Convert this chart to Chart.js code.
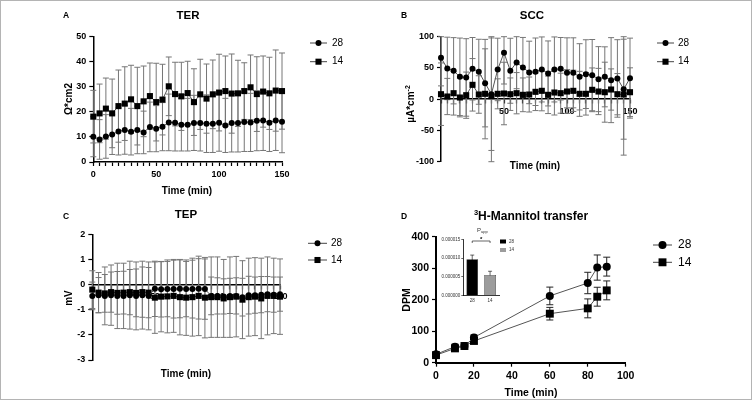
<!DOCTYPE html>
<html>
<head>
<meta charset="utf-8">
<script src="https://cdn.jsdelivr.net/npm/chart.js@4"></script>
<style>
  body { margin: 0; background: #fff; }
  #fig { position: relative; width: 752px; height: 400px; overflow: hidden; }
  #frame { position: absolute; left: 0; top: 0; width: 752px; height: 400px; box-sizing: border-box; border: 1px solid #b4b4b4; pointer-events: none; }
  canvas { position: absolute; }
  .t { position: absolute; transform: translate(-50%, -50%); white-space: nowrap; line-height: 1;
       font-family: "Liberation Sans", Arial, sans-serif; font-weight: bold; color: #000; }
  .r { transform: translate(-50%, -50%) rotate(-90deg); }
  .big { font-size: 11.5px; }
  .let { font-size: 8.5px; }
  .ax { font-size: 10px; }
  sup { font-size: 7px; }
</style>
</head>
<body>
<div id="fig">
  <canvas id="cA" width="376" height="200" style="left:0;top:0"></canvas>
  <canvas id="cB" width="376" height="200" style="left:376px;top:0"></canvas>
  <canvas id="cC" width="376" height="200" style="left:0;top:200px"></canvas>
  <canvas id="cD" width="376" height="200" style="left:376px;top:200px"></canvas>
  <canvas id="cIn" width="95" height="85" style="left:430px;top:225px"></canvas>

  <div class="t let" style="left:66px;top:14.5px">A</div>
  <div class="t big" style="left:188px;top:16px">TER</div>
  <div class="t let" style="left:404px;top:14.5px">B</div>
  <div class="t big" style="left:532px;top:15.5px">SCC</div>
  <div class="t let" style="left:66px;top:215.5px">C</div>
  <div class="t big" style="left:186px;top:214.5px">TEP</div>
  <div class="t let" style="left:404px;top:215.5px">D</div>
  <div class="t big" style="left:531px;top:215px;font-size:12px"><sup style="font-size:7.5px">3</sup>H-Mannitol transfer</div>

  <div class="t ax" style="left:187px;top:191px">Time (min)</div>
  <div class="t ax" style="left:535px;top:165.5px">Time (min)</div>
  <div class="t ax" style="left:186px;top:374px">Time (min)</div>
  <div class="t ax" style="left:531px;top:391.5px;font-size:10.5px">Time (min)</div>

  <div class="t ax r" style="left:69px;top:98.5px">Ω*cm2</div>
  <div class="t ax r" style="left:410px;top:104px">µA*cm<sup>-2</sup></div>
  <div class="t ax r" style="left:69px;top:297.5px">mV</div>
  <div class="t ax r" style="left:406px;top:299.5px;font-size:10.5px">DPM</div>
  <div id="frame"></div>
</div>

<script>
// time points (min) for TER, SCC, TEP
const times = [0, 5, 10, 15, 20, 25, 30, 35, 40, 45, 50, 55, 60, 65, 70, 75, 80, 85, 90, 95, 100, 105, 110, 115, 120, 125, 130, 135, 140, 145, 150];

// A: TER
const ter28   = [10.1, 9.0, 10.2, 11.0, 12.2, 12.8, 12.1, 12.8, 11.8, 14.0, 13.3, 14.1, 15.8, 15.7, 14.9, 14.9, 15.6, 15.6, 15.3, 15.3, 15.7, 14.6, 15.6, 15.6, 16.0, 15.8, 16.5, 16.6, 15.7, 16.6, 16.1];
const ter28Sd = [8.0, 7.9, 8.7, 8.0, 9.4, 9.7, 9.3, 9.5, 8.5, 9.9, 9.2, 9.6, 11.3, 11.3, 10.5, 10.5, 11.0, 11.2, 11.5, 11.5, 11.4, 10.8, 11.6, 11.6, 11.8, 11.6, 12.0, 12.0, 11.5, 12.0, 12.4];
const ter14   = [18.1, 19.4, 21.3, 19.4, 22.3, 23.3, 25.0, 22.3, 24.2, 26.3, 23.9, 24.9, 30.2, 27.1, 26.2, 27.5, 23.9, 27.0, 25.3, 27.0, 27.7, 28.3, 27.3, 27.4, 28.3, 29.8, 27.1, 28.1, 27.4, 28.5, 28.3];
const ter14Sd = [10.5, 11.7, 12.2, 13.7, 14.4, 14.7, 13.6, 15.5, 14.1, 13.2, 15.5, 14.1, 11.7, 12.7, 13.6, 12.7, 13.3, 14.0, 13.8, 13.7, 15.3, 14.0, 15.8, 13.2, 11.3, 12.9, 14.9, 14.2, 14.4, 16.2, 15.2];

// B: SCC
const scc28   = [66.3, 49.2, 45.5, 35.8, 34.8, 48.7, 43.9, 25.7, 8, 47.6, 74.3, 45.5, 58.8, 50.8, 42.8, 43.9, 47.6, 41.2, 47.6, 48.7, 42.2, 42.2, 35.8, 40.1, 38.5, 32.1, 35.8, 30.5, 33.2, 16, 33.7];
const scc28Sd = [45, 50, 53, 62, 62, 50, 52, 70, 90, 50, 50, 52, 42, 48, 50, 54, 52, 52, 52, 50, 56, 56, 53, 55, 57, 52, 48, 68, 62, 80, 64];
const scc14   = [8, 4.3, 9.6, 2.7, 6.4, 23, 7.5, 8.6, 5, 8.6, 9.1, 8, 9.6, 7, 7.5, 11.8, 13.4, 7, 10.7, 9.6, 12.3, 13.4, 8.6, 8.6, 15, 12.3, 11.2, 15.5, 8, 7.5, 11.2];
const scc14Sd = [50, 29, 35, 31, 37, 42, 30, 72, 110, 24, 50, 26, 33, 27, 28, 30, 32, 30, 36, 32, 35, 33, 36, 34, 35, 37, 48, 33, 33, 97, 39];

// C: TEP
const tep28   = [-0.45, -0.42, -0.45, -0.42, -0.45, -0.45, -0.42, -0.45, -0.42, -0.45, -0.17, -0.19, -0.18, -0.18, -0.17, -0.18, -0.18, -0.17, -0.18, -0.45, -0.45, -0.47, -0.45, -0.45, -0.5, -0.42, -0.42, -0.4, -0.38, -0.4, -0.38];
const tep28Sd = [0.55, 0.7, 1.15, 1.2, 1.3, 1.3, 1.35, 1.35, 1.35, 1.35, 1.1, 1.1, 1.1, 1.15, 1.15, 1.1, 1.15, 1.2, 1.2, 0.75, 0.72, 0.7, 0.7, 0.72, 0.75, 0.75, 0.72, 0.72, 0.7, 0.7, 0.68];
const tep14   = [-0.2, -0.32, -0.35, -0.3, -0.33, -0.32, -0.3, -0.33, -0.3, -0.32, -0.52, -0.48, -0.47, -0.45, -0.5, -0.52, -0.5, -0.45, -0.52, -0.5, -0.5, -0.55, -0.5, -0.48, -0.6, -0.5, -0.48, -0.55, -0.45, -0.45, -0.48];
const tep14Sd = [0.75, 0.8, 0.75, 0.8, 0.85, 0.85, 0.9, 0.95, 1.0, 1.0, 1.42, 1.4, 1.45, 1.45, 1.5, 1.5, 1.55, 1.58, 1.6, 1.6, 1.6, 1.55, 1.6, 1.6, 1.55, 1.55, 1.55, 1.6, 1.55, 1.5, 1.5];

// D: 3H-mannitol
const dTimes  = [0, 10, 15, 20, 60, 80, 85, 90];
const dpm28   = [26.5, 51, 53, 80, 212, 253, 302, 305];
const dpm28Sd = [6, 8, 6, 8, 28, 34, 40, 30];
const dpm14   = [24, 45.5, 53, 69, 155.6, 172.5, 209.5, 229.6];
const dpm14Sd = [5, 7, 6, 7, 20, 30, 30, 30];

// inset: Papp
const pappGroups = ['28', '14'];
const papp   = [0.0000097, 0.0000055];
const pappSd = [0.0000011, 0.0000010];

const FONT = '"Liberation Sans", Arial, sans-serif';
Chart.defaults.font.family = FONT;

function marker(ctx, style, x, y, r) {
  ctx.fillStyle = '#000';
  ctx.beginPath();
  if (style === 'rect') {
    const s = r * Math.SQRT1_2;
    ctx.rect(x - s, y - s, 2 * s, 2 * s);
  } else {
    ctx.arc(x, y, r, 0, Math.PI * 2);
  }
  ctx.fill();
}

// vertical SD bars, drawn under the markers
const errorBars = {
  id: 'errorBars',
  beforeDatasetsDraw(chart, args, o) {
    if (!o || !o.color) return;
    const ctx = chart.ctx, ys = chart.scales.y;
    chart.data.datasets.forEach((ds, i) => {
      if (!ds.errors) return;
      const meta = chart.getDatasetMeta(i);
      ctx.save();
      ctx.strokeStyle = o.color;
      ctx.lineWidth = o.width;
      meta.data.forEach((el, j) => {
        const d = ds.data[j];
        const v = typeof d === 'object' ? d.y : d;
        const e = ds.errors[j];
        const top = ys.getPixelForValue(Math.min(v + e, ys.max));
        const bot = ys.getPixelForValue(Math.max(v - e, ys.min));
        const x = el.x;
        ctx.beginPath();
        ctx.moveTo(x, top); ctx.lineTo(x, bot);
        ctx.moveTo(x - o.cap, top); ctx.lineTo(x + o.cap, top);
        ctx.moveTo(x - o.cap, bot); ctx.lineTo(x + o.cap, bot);
        ctx.stroke();
      });
      ctx.restore();
    });
  }
};

// GraphPad style legend: line with the symbol in its middle
const sideLegend = {
  id: 'sideLegend',
  afterDraw(chart, args, o) {
    if (!o || o.x === undefined) return;
    const ctx = chart.ctx;
    ctx.save();
    chart.data.datasets.forEach((ds, i) => {
      const y = o.y + i * o.gap;
      ctx.strokeStyle = '#444';
      ctx.lineWidth = 1;
      ctx.beginPath(); ctx.moveTo(o.x, y); ctx.lineTo(o.x + o.len, y); ctx.stroke();
      marker(ctx, ds.pointStyle, o.x + o.len / 2, y, ds.pointRadius);
      ctx.fillStyle = '#000';
      ctx.font = o.size + 'px ' + FONT;
      ctx.textAlign = 'left';
      ctx.textBaseline = 'middle';
      ctx.fillText(ds.label, o.textX, y);
    });
    ctx.restore();
  }
};
Chart.register(errorBars, sideLegend);

function linAxis(min, max, step, o) {
  const ax = {
    type: 'linear', min, max,
    border: { display: true, color: '#000', width: o.bw || 1.5 },
    grid: { drawOnChartArea: false, drawTicks: true, tickLength: 4, tickColor: '#000', tickWidth: 1.2 },
    ticks: { stepSize: step, autoSkip: false, maxRotation: 0, color: '#000', padding: 3,
             font: { size: o.fs || 9, weight: 'bold' }, callback: o.cb || (v => v) }
  };
  if (o.position) ax.position = o.position;
  if (o.fit) ax.afterFit = o.fit;
  return ax;
}

function series(label, xs, ys, sd, style, r) {
  return {
    label, data: xs.map((x, i) => ({ x, y: ys[i] })), errors: sd,
    pointStyle: style, pointRadius: r, pointHoverRadius: r,
    pointBackgroundColor: '#000', pointBorderWidth: 0,
    borderColor: '#555', borderWidth: 1, tension: 0, fill: false, clip: false
  };
}

function opts(c) {
  return {
    responsive: false, animation: false, devicePixelRatio: 1,
    layout: { padding: c.padding },
    scales: { x: c.x, y: c.y },
    plugins: { legend: { display: false }, tooltip: { enabled: false }, sideLegend: c.legend, errorBars: c.err }
  };
}

const every50 = v => v % 50 === 0 ? v : '';
const every50no0 = v => (v % 50 === 0 && v !== 0) ? v : '';
const greyErr = { color: '#767676', width: 1, cap: 3 };

// A TER
new Chart(document.getElementById('cA'), {
  type: 'line',
  data: { datasets: [series('28', times, ter28, ter28Sd, 'circle', 3), series('14', times, ter14, ter14Sd, 'rect', 4.3)] },
  options: opts({
    padding: { left: 0, top: 36.7, right: 94, bottom: 0 },
    x: linAxis(0, 150, 5, { cb: every50, fit: s => { s.height = 38; } }),
    y: linAxis(0, 50, 10, { fit: s => { s.width = 93.3; } }),
    legend: { x: 310, y: 43, gap: 18.7, len: 17, textX: 332, size: 10 },
    err: greyErr
  })
});

// B SCC
new Chart(document.getElementById('cB'), {
  type: 'line',
  data: { datasets: [series('28', times, scc28, scc28Sd, 'circle', 3), series('14', times, scc14, scc14Sd, 'rect', 4.3)] },
  options: opts({
    padding: { left: 0, top: 36.7, right: 122, bottom: 38.3 },
    x: linAxis(0, 150, 5, { cb: every50no0, position: { y: 0 } }),
    y: linAxis(-100, 100, 50, { fit: s => { s.width = 65; } }),
    legend: { x: 281, y: 43, gap: 18.7, len: 17, textX: 302, size: 10 },
    err: greyErr
  })
});

// C TEP
new Chart(document.getElementById('cC'), {
  type: 'line',
  data: { datasets: [series('28', times, tep28, tep28Sd, 'circle', 3), series('14', times, tep14, tep14Sd, 'rect', 4.3)] },
  options: opts({
    padding: { left: 0, top: 34.3, right: 96, bottom: 40 },
    x: linAxis(0, 150, 5, { cb: every50no0, position: { y: 0 } }),
    y: linAxis(-3, 2, 1, { fit: s => { s.width = 92.3; } }),
    legend: { x: 308, y: 43.3, gap: 16.7, len: 19, textX: 331, size: 10 },
    err: greyErr
  })
});

// D mannitol
new Chart(document.getElementById('cD'), {
  type: 'line',
  data: { datasets: [series('28', dTimes, dpm28, dpm28Sd, 'circle', 4), series('14', dTimes, dpm14, dpm14Sd, 'rect', 5.6)] },
  options: opts({
    padding: { left: 0, top: 36.7, right: 126.3, bottom: 0 },
    x: linAxis(0, 100, 20, { fs: 10.5, bw: 2, fit: s => { s.height = 37.3; } }),
    y: linAxis(0, 400, 100, { fs: 10.5, bw: 2, fit: s => { s.width = 60; } }),
    legend: { x: 277, y: 45, gap: 17.3, len: 19, textX: 302, size: 12 },
    err: { color: '#222', width: 1, cap: 3.5 }
  })
});

// inset bar chart (Papp)
const insetDeco = {
  id: 'insetDeco',
  afterDraw(chart) {
    const { ctx } = chart;
    const xs = chart.scales.x;
    const x1 = xs.getPixelForValue(0), x2 = xs.getPixelForValue(1);
    ctx.save();
    ctx.strokeStyle = '#000';
    ctx.lineWidth = 0.6;
    ctx.beginPath();
    ctx.moveTo(x1, 18); ctx.lineTo(x1, 16); ctx.lineTo(x2, 16); ctx.lineTo(x2, 18);
    ctx.stroke();
    ctx.fillStyle = '#000';
    ctx.textAlign = 'center';
    ctx.textBaseline = 'middle';
    ctx.font = 'bold 6px ' + FONT;
    ctx.fillText('*', (x1 + x2) / 2, 14);
    ctx.fillStyle = '#333';
    ctx.textAlign = 'left';
    ctx.font = '6px ' + FONT;
    ctx.fillText('P', 47, 5);
    ctx.font = '4px ' + FONT;
    ctx.fillText('app', 51, 7);
    const ds = chart.data.datasets[0];
    chart.data.labels.forEach((lab, i) => {
      const y = 16.5 + i * 8.5;
      ctx.fillStyle = ds.backgroundColor[i];
      ctx.fillRect(70, y - 2, 6, 4);
      ctx.fillStyle = '#333';
      ctx.font = '4.5px ' + FONT;
      ctx.fillText(lab, 79, y);
    });
    ctx.restore();
  }
};

new Chart(document.getElementById('cIn'), {
  type: 'bar',
  data: {
    labels: pappGroups,
    datasets: [{ label: 'Papp', data: papp, errors: pappSd,
      backgroundColor: ['#000', '#9c9c9c'], borderColor: '#000', borderWidth: 0.6,
      barPercentage: 0.65, categoryPercentage: 1 }]
  },
  options: {
    responsive: false, animation: false, devicePixelRatio: 1,
    layout: { padding: { left: 0, top: 14.3, right: 26, bottom: 0 } },
    scales: {
      x: { type: 'category',
           border: { color: '#000', width: 0.8 },
           grid: { drawOnChartArea: false, drawTicks: false },
           ticks: { color: '#333', padding: 2, font: { size: 4.5 } },
           afterFit: s => { s.height = 14.3; } },
      y: { type: 'linear', min: 0, max: 0.000015,
           border: { color: '#000', width: 0.8 },
           grid: { drawOnChartArea: false, tickLength: 2, tickColor: '#000', tickWidth: 0.6 },
           ticks: { stepSize: 0.000005, color: '#333', padding: 1, font: { size: 4.5 }, callback: v => v.toFixed(6) },
           afterFit: s => { s.width = 33.3; } }
    },
    plugins: { legend: { display: false }, tooltip: { enabled: false }, errorBars: { color: '#000', width: 0.6, cap: 2 } }
  },
  plugins: [insetDeco]
});
</script>
</body>
</html>
